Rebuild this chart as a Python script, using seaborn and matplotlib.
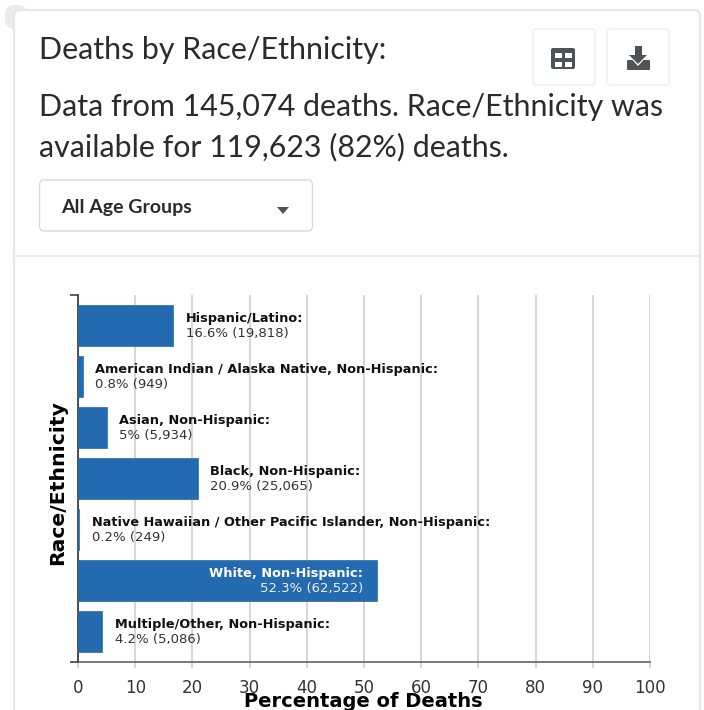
import matplotlib
matplotlib.use("Agg")
import matplotlib.pyplot as plt
from matplotlib.patches import FancyBboxPatch, Rectangle, Polygon
import seaborn as sns
import pandas as pd

groups = ["Hispanic/Latino", "American Indian / Alaska Native, Non-Hispanic",
          "Asian, Non-Hispanic", "Black, Non-Hispanic",
          "Native Hawaiian / Other Pacific Islander, Non-Hispanic",
          "White, Non-Hispanic", "Multiple/Other, Non-Hispanic"]
percent = [16.6, 0.8, 5, 20.9, 0.2, 52.3, 4.2]
counts = ["19,818", "949", "5,934", "25,065", "249", "62,522", "5,086"]
x_ticks = [0, 10, 20, 30, 40, 50, 60, 70, 80, 90, 100]

title_line = "Deaths by Race/Ethnicity:"
sub_line1 = "Data from 145,074 deaths. Race/Ethnicity was"
sub_line2 = "available for 119,623 (82%) deaths."
dropdown_label = "All Age Groups"

W, H = 704, 710
BLUE = "#236AB1"
ICON = "#4d5357"
sns.set_theme(style="white")
plt.rcParams["font.family"] = ["DejaVu Sans"]
fig = plt.figure(figsize=(W / 100, H / 100), dpi=100, facecolor="white")

# page chrome in pixel coordinates
ch = fig.add_axes([0, 0, 1, 1], zorder=0)
ch.set_xlim(0, W); ch.set_ylim(H, 0); ch.axis("off")
ch.add_patch(FancyBboxPatch((5, 5), 22, 24, boxstyle="round,pad=0,rounding_size=9",
                            fc="#ececec", ec="none", zorder=0))
ch.add_patch(FancyBboxPatch((14, 10), 686, 720, boxstyle="round,pad=0,rounding_size=6",
                            fc="white", ec="#e8e8e8", lw=1.6, zorder=1))
ch.plot([14, 700], [256, 256], color="#e6e6e6", lw=1.3, zorder=2)
for x0 in (533, 607):
    ch.add_patch(FancyBboxPatch((x0, 29), 62, 56, boxstyle="round,pad=0,rounding_size=3",
                                fc="white", ec="#f3f3f3", lw=1.6, zorder=2))
ch.add_patch(FancyBboxPatch((39.5, 180), 273, 51, boxstyle="round,pad=0,rounding_size=5",
                            fc="white", ec="#d8d8d8", lw=1, zorder=2))
# table icon
ch.add_patch(FancyBboxPatch((551, 48), 24, 21, boxstyle="round,pad=0,rounding_size=2",
                            fc=ICON, ec="none", zorder=3))
for cx, cy in ((554.5, 53), (564.5, 53), (554.5, 62), (564.5, 62)):
    ch.add_patch(Rectangle((cx, cy), 7.5, 4.5, fc="white", ec="none", zorder=4))
# download icon
ch.add_patch(FancyBboxPatch((627, 60), 23, 10, boxstyle="round,pad=0,rounding_size=1",
                            fc=ICON, ec="none", zorder=3))
ch.add_patch(Polygon([(626, 53), (650, 53), (638, 66)], fc="white", ec="none", zorder=4))
ch.add_patch(Rectangle((635, 46), 6.5, 10, fc=ICON, ec="none", zorder=5))
ch.add_patch(Polygon([(629, 55), (647, 55), (638, 64)], fc=ICON, ec="none", zorder=5))
# dropdown caret
ch.add_patch(Polygon([(277, 207), (289, 207), (283, 214)], fc=ICON, ec="none", zorder=3))

txt = dict(family="Lato", color="#2b2b2b", va="center", ha="left", zorder=6)
ch.text(39, 50, title_line, fontsize=21.85, **txt)
ch.text(39, 107, sub_line1, fontsize=21.9, **txt)
ch.text(39, 147, sub_line2, fontsize=21.9, **txt)
ch.text(61, 207, dropdown_label, fontsize=14, fontweight="bold", **txt)

# chart
ax = fig.add_axes([78 / W, (H - 662) / H, 572 / W, 367 / H], zorder=1)
ax.patch.set_alpha(0)
df = pd.DataFrame({"group": groups, "percent": percent})
sns.barplot(data=df, x="percent", y="group", color=BLUE, saturation=1, width=0.8,
            linewidth=0.5, edgecolor=BLUE, ax=ax)
ax.set_xlim(0, 100)
ax.set_ylim(6.598, -0.598)
ax.set_xticks(x_ticks)
ax.set_xticklabels([str(t) for t in x_ticks], fontsize=12, color="#333333")
ax.tick_params(axis="x", length=4.5, width=1.1, color="#cccccc", pad=8, bottom=True)
ax.set_yticks([-0.598, 6.598])
ax.set_yticklabels(["", ""])
ax.tick_params(axis="y", length=5.8, width=1.1, color="#333333", left=True)
ax.grid(axis="x", color="#cccccc", lw=1.1)
ax.set_axisbelow(True)
for s in ("top", "right"):
    ax.spines[s].set_visible(False)
ax.spines["left"].set_color("#222222"); ax.spines["left"].set_linewidth(1.1)
ax.spines["left"].set_zorder(0.9)
ax.spines["bottom"].set_color("#555555"); ax.spines["bottom"].set_linewidth(1.1)
ax.set_xlabel("")
ax.set_ylabel("")

fig.text(363 / W, 1 - 701.5 / H, "Percentage of Deaths", fontsize=14, fontweight="bold",
         color="black", ha="center", va="center", zorder=5)
fig.text(58 / W, 1 - 482.5 / H, "Race/Ethnicity", fontsize=14.7, fontweight="bold",
         color="black", ha="center", va="center", rotation=90, zorder=5)

for i, (g, p, c) in enumerate(zip(groups, percent, counts)):
    inside = p > 40
    xoff = -10 if inside else 9.2
    ha = "right" if inside else "left"
    col1 = "white" if inside else "#111111"
    col2 = "#f0f0f0" if inside else "#333333"
    ax.annotate(g + ":", (p, i), xytext=(xoff, 5.0), textcoords="offset points",
                fontsize=9.25, fontweight="bold", color=col1, ha=ha, va="center",
                annotation_clip=False)
    ax.annotate(f"{p}% ({c})", (p, i), xytext=(xoff, -5.6), textcoords="offset points",
                fontsize=9.5, color=col2, ha=ha, va="center", annotation_clip=False)

fig.savefig("out.png", dpi=100)
